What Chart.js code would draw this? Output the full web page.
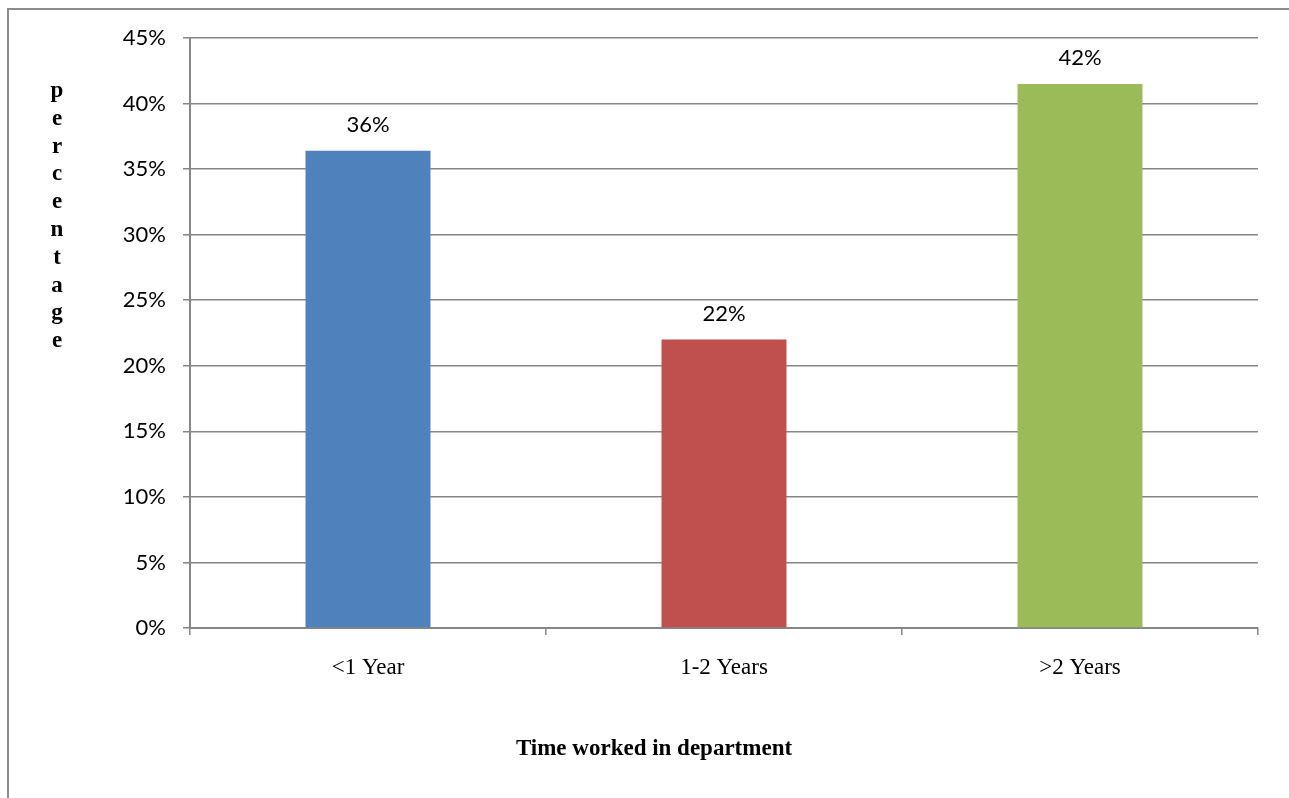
<!DOCTYPE html>
<html>
<head>
<meta charset="utf-8">
<script src="https://cdn.jsdelivr.net/npm/chart.js@4"></script>
<style>
  html, body { margin: 0; padding: 0; background: #fff; }
  #wrap { position: relative; width: 1289px; height: 798px; }
  #frame { position: absolute; left: 7px; top: 8px; right: 0; bottom: 0; border-left: 2px solid #8c8c8c; border-top: 2px solid #8c8c8c; box-sizing: border-box; pointer-events: none; }
  canvas { position: absolute; left: 0; top: 0; }
</style>
</head>
<body>
<div id="wrap">
  <canvas id="c" width="1289" height="798"></canvas>
  <div id="frame"></div>
</div>
<script>
const categories = ['<1 Year', '1-2 Years', '>2 Years'];
const values = [36.4, 22.0, 41.5];
const valueLabels = ['36%', '22%', '42%'];
const barColors = ['#4F81BD', '#C0504D', '#9BBB59'];
const yTitle = 'percentage';
const xTitle = 'Time worked in department';

const gridColor = '#868686';

const labelsPlugin = {
  id: 'labelsPlugin',
  afterDatasetsDraw(chart) {
    const ctx = chart.ctx;
    const meta = chart.getDatasetMeta(0);
    ctx.save();
    ctx.font = '22px Lato';
    ctx.fillStyle = '#000';
    ctx.textAlign = 'center';
    ctx.textBaseline = 'middle';
    meta.data.forEach((bar, i) => {
      ctx.fillText(valueLabels[i], bar.x, bar.y - 26);
    });
    ctx.restore();
  },
  afterDraw(chart) {
    const ctx = chart.ctx;
    ctx.save();
    ctx.fillStyle = '#000';
    ctx.textAlign = 'center';
    ctx.textBaseline = 'middle';
    ctx.font = 'bold 23px "Liberation Serif"';
    const letters = yTitle.split('');
    letters.forEach((ch, i) => {
      ctx.fillText(ch, 57, 91 + i * 27.8);
    });
    ctx.fillText(xTitle, 654, 749);
    ctx.restore();
  }
};

new Chart(document.getElementById('c'), {
  type: 'bar',
  data: {
    labels: categories,
    datasets: [{
      data: values,
      backgroundColor: barColors,
      borderWidth: 0,
      categoryPercentage: 1.0,
      barPercentage: 0.351
    }]
  },
  options: {
    responsive: false,
    animation: false,
    layout: { padding: { top: 38, right: 31, left: 0, bottom: 0 } },
    plugins: { legend: { display: false }, tooltip: { enabled: false }, title: { display: false } },
    scales: {
      x: {
        offset: true,
        grid: { display: true, drawOnChartArea: false, drawTicks: true, tickLength: 7, color: gridColor, offset: true, lineWidth: 1.5 },
        border: { display: true, color: gridColor, width: 2 },
        ticks: { color: '#000', font: { family: '"Liberation Serif"', size: 23 }, padding: 19, maxRotation: 0 },
        afterFit(scale) { scale.height = 170; }
      },
      y: {
        min: 0, max: 45,
        ticks: { stepSize: 5, color: '#000', font: { family: 'Lato', size: 22 }, padding: 17, callback: v => v + '%' },
        grid: { color: gridColor, lineWidth: 1.5, tickLength: 7, drawTicks: true },
        border: { display: true, color: gridColor, width: 2 },
        afterFit(scale) { scale.width = 190; }
      }
    }
  },
  plugins: [labelsPlugin]
});
</script>
</body>
</html>
